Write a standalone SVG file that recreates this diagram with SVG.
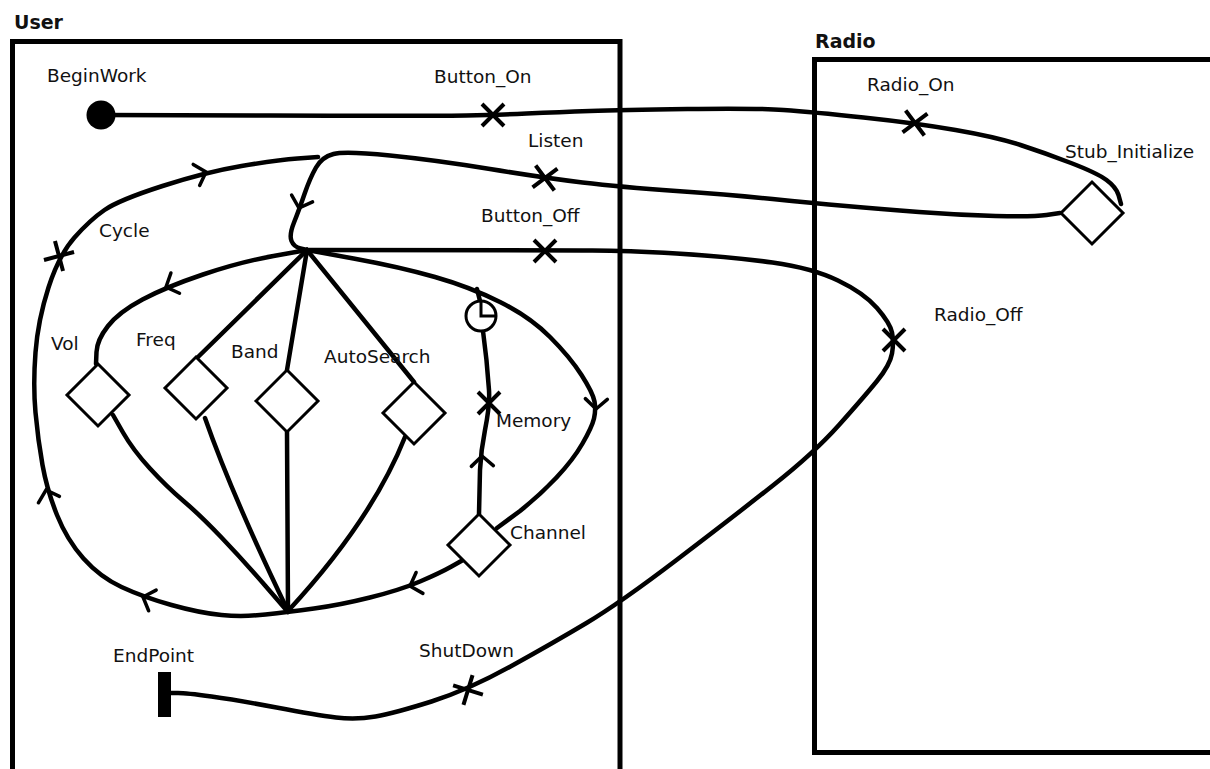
<svg xmlns="http://www.w3.org/2000/svg" xmlns:xlink="http://www.w3.org/1999/xlink" width="1210" height="769" viewBox="0 0 1210 769">
  <style>
    .comp { fill: none; stroke: #000; stroke-width: 5; }
    .title { font-family: "DejaVu Sans", "Liberation Sans", sans-serif; font-weight: bold; font-size: 19px; fill: #111; }
    .lbl { font-family: "DejaVu Sans", "Liberation Sans", sans-serif; font-size: 18.5px; fill: #111; }
    .path { fill: none; stroke: #000; stroke-width: 4.5; stroke-linecap: round; stroke-linejoin: round; }
    .stub { fill: #fff; stroke: #000; stroke-width: 3; }
    .mark { fill: none; stroke: #000; stroke-width: 4; stroke-linecap: butt; }
    .chev { fill: none; stroke: #000; stroke-width: 3.5; stroke-linecap: round; stroke-linejoin: miter; }
  </style>
  <defs>
    <path id="diamond" d="M0,-31 L31,0 L0,31 L-31,0 Z"/>
    <path id="xmark" d="M-11,-11 L11,11 M11,-11 L-11,11"/>
    <path id="chev" d="M-10,-11 L0,0 L-10,11"/>
  </defs>

  <rect width="1210" height="769" fill="#fff"/>

  <!-- components -->
  <g id="comp-user">
    <rect class="comp" x="12.5" y="41.5" width="607.5" height="800"/>
    <text class="title" x="14" y="29">User</text>
  </g>
  <g id="comp-radio">
    <rect class="comp" x="814.5" y="59.5" width="420" height="693"/>
    <text class="title" x="815" y="48">Radio</text>
  </g>

  <!-- paths -->
  <g id="connectors">
    <!-- BeginWork to Stub_Initialize -->
    <path class="path" d="M101,115 L270.5,115.5 Q440,116 466.5,115.5 Q493,115 526.5,113.5 Q560,112 590,111 Q620,110 687.5,109 Q755,108 783.5,110 Q812,112 863.5,117.5 Q915,123 955.5,130 Q996,137 1020.5,145 Q1045,153 1071,163 Q1097,173 1106.5,180 Q1116,187 1118.5,195 L1121,204"/>
    <!-- Stub_Initialize out, through Listen to the fork -->
    <path class="path" d="M1060,213 L1046.5,215 Q1033,217 995.5,216 Q958,215 919,212 Q880,209 846,206 Q812,203 772.5,199 Q733,195 676.5,191 Q620,187 582.5,182.5 Q545,178 490,169 Q435,160 390,155.5 Q345,151 333.5,154 Q322,157 316,167.5 Q310,178 304.5,194 Q299,210 294,222.5 Q289,235 291.5,241 Q294,247 300.5,248.5 L307,250"/>
    <!-- Cycle loop back from Channel -->
    <path class="path" d="M463,560 L451.5,566.5 Q440,573 420,581.5 Q400,590 370,597.5 Q340,605 314,608.5 Q288,612 265.5,614.5 Q243,617 221.5,615 Q200,613 171.5,605 Q143,597 121.5,587 Q100,577 83.5,558.5 Q67,540 57,515 Q47,490 42.5,465 Q38,440 35.5,412.5 Q33,385 35.5,352.5 Q38,320 48.5,287.5 Q59,255 74.5,237.5 Q90,220 104.5,210 Q119,200 162.5,186 Q206,172 241.5,166 Q277,160 297.5,158.5 L318,157"/>
    <!-- fork to Vol -->
    <path class="path" d="M307,250 L273.5,256 Q240,262 203,274.5 Q166,287 142.5,299.5 Q119,312 108,326 Q97,340 96.5,352 L96,364"/>
    <!-- fork to Freq, Band, AutoSearch -->
    <path class="path" d="M307,250 L198,357"/>
    <path class="path" d="M307,250 L287,370"/>
    <path class="path" d="M307,250 L414,382"/>
    <!-- fork to Channel via the outer arc -->
    <path class="path" d="M307,250 L353.5,258.5 Q400,267 435,277 Q470,287 500,302 Q530,317 550,337 Q570,357 581.5,375 Q593,393 594.5,401.5 Q596,410 594,418.5 Q592,427 582.5,443.5 Q573,460 556.5,477.5 Q540,495 520,511 L497,528"/>
    <!-- timer branch -->
    <path class="path" d="M477,289 L480,301"/>
    <path class="path" d="M479,514 L480,470 Q481,450 485,430 Q490,405 489,390 Q487,360 483,331"/>
    <!-- stubs to the join -->
    <path class="path" d="M113,415 L123,432.5 Q133,450 150,468.5 Q167,487 183.5,501 Q200,515 221.5,537.5 Q243,560 265.5,586 L288,612"/>
    <path class="path" d="M205,418 Q232,495 288,611"/>
    <path class="path" d="M287,432 L288,611"/>
    <path class="path" d="M405,437 Q372,520 288,611"/>
    <!-- Button_Off through Radio_Off and ShutDown to EndPoint -->
    <path class="path" d="M307,250 L582.5,250.5 Q620,250 676.5,253.5 Q733,257 772.5,262.5 Q812,268 838,280.5 Q864,293 877,308 Q890,323 892,332.5 Q894,342 892,353.5 Q890,365 877,381 Q864,397 839,425 Q814,453 773.5,485 Q733,517 676.5,560 Q620,603 586.5,623 Q553,643 510.5,666.5 Q468,690 431.5,701.5 Q395,713 375.5,716.5 Q356,720 336,717.5 Q316,715 276.5,707.5 Q237,700 211.5,696.5 Q186,693 178,693 L170,693"/>

    <!-- direction arrows -->
    <use href="#chev" class="chev" transform="translate(206,172) rotate(-17)"/>
    <use href="#chev" class="chev" transform="translate(299,208) rotate(108)"/>
    <use href="#chev" class="chev" transform="translate(166,287) rotate(157)"/>
    <use href="#chev" class="chev" transform="translate(596,409) rotate(92)"/>
    <use href="#chev" class="chev" transform="translate(482,456) rotate(-92)"/>
    <use href="#chev" class="chev" transform="translate(410,586) rotate(162)"/>
    <use href="#chev" class="chev" transform="translate(143,597) rotate(200)"/>
    <use href="#chev" class="chev" transform="translate(46,490) rotate(-107)"/>
  </g>

  <!-- start point -->
  <g id="BeginWork">
    <circle cx="101" cy="115" r="14.5" fill="#000"/>
    <text class="lbl" x="47" y="82">BeginWork</text>
  </g>

  <!-- responsibilities -->
  <g id="Button_On">
    <use href="#xmark" class="mark" transform="translate(493,115)"/>
    <text class="lbl" x="434" y="83">Button_On</text>
  </g>
  <g id="Listen">
    <use href="#xmark" class="mark" transform="translate(545,178) rotate(8)"/>
    <text class="lbl" x="528" y="147">Listen</text>
  </g>
  <g id="Button_Off">
    <use href="#xmark" class="mark" transform="translate(545,251)"/>
    <text class="lbl" x="481" y="222">Button_Off</text>
  </g>
  <g id="Cycle">
    <use href="#xmark" class="mark" transform="translate(59,256) rotate(-60)"/>
    <text class="lbl" x="99" y="237">Cycle</text>
  </g>
  <g id="Memory">
    <use href="#xmark" class="mark" transform="translate(489,403)"/>
    <text class="lbl" x="496" y="427">Memory</text>
  </g>
  <g id="Radio_On">
    <use href="#xmark" class="mark" transform="translate(915,123) rotate(8)"/>
    <text class="lbl" x="867" y="91">Radio_On</text>
  </g>
  <g id="Radio_Off">
    <use href="#xmark" class="mark" transform="translate(894,340)"/>
    <text class="lbl" x="934" y="321">Radio_Off</text>
  </g>
  <g id="ShutDown">
    <use href="#xmark" class="mark" transform="translate(468,690) rotate(-28)"/>
    <text class="lbl" x="419" y="657">ShutDown</text>
  </g>

  <!-- timer -->
  <g id="Timer">
    <circle cx="481" cy="316" r="15" fill="#fff" stroke="#000" stroke-width="3"/>
    <path d="M481,302 V316 H495" fill="none" stroke="#000" stroke-width="3"/>
  </g>

  <!-- stubs -->
  <g id="Vol">
    <use href="#diamond" class="stub" transform="translate(98,395)"/>
    <text class="lbl" x="51" y="350">Vol</text>
  </g>
  <g id="Freq">
    <use href="#diamond" class="stub" transform="translate(196,388)"/>
    <text class="lbl" x="136" y="346">Freq</text>
  </g>
  <g id="Band">
    <use href="#diamond" class="stub" transform="translate(287,401)"/>
    <text class="lbl" x="231" y="358">Band</text>
  </g>
  <g id="AutoSearch">
    <use href="#diamond" class="stub" transform="translate(414,413)"/>
    <text class="lbl" x="324" y="363">AutoSearch</text>
  </g>
  <g id="Channel">
    <use href="#diamond" class="stub" transform="translate(479,545)"/>
    <text class="lbl" x="510" y="539">Channel</text>
  </g>
  <g id="Stub_Initialize">
    <use href="#diamond" class="stub" transform="translate(1092,213)"/>
    <text class="lbl" x="1065" y="158">Stub_Initialize</text>
  </g>

  <!-- end point -->
  <g id="EndPoint">
    <rect x="158" y="672" width="13" height="45" fill="#000"/>
    <text class="lbl" x="113" y="662">EndPoint</text>
  </g>
</svg>
